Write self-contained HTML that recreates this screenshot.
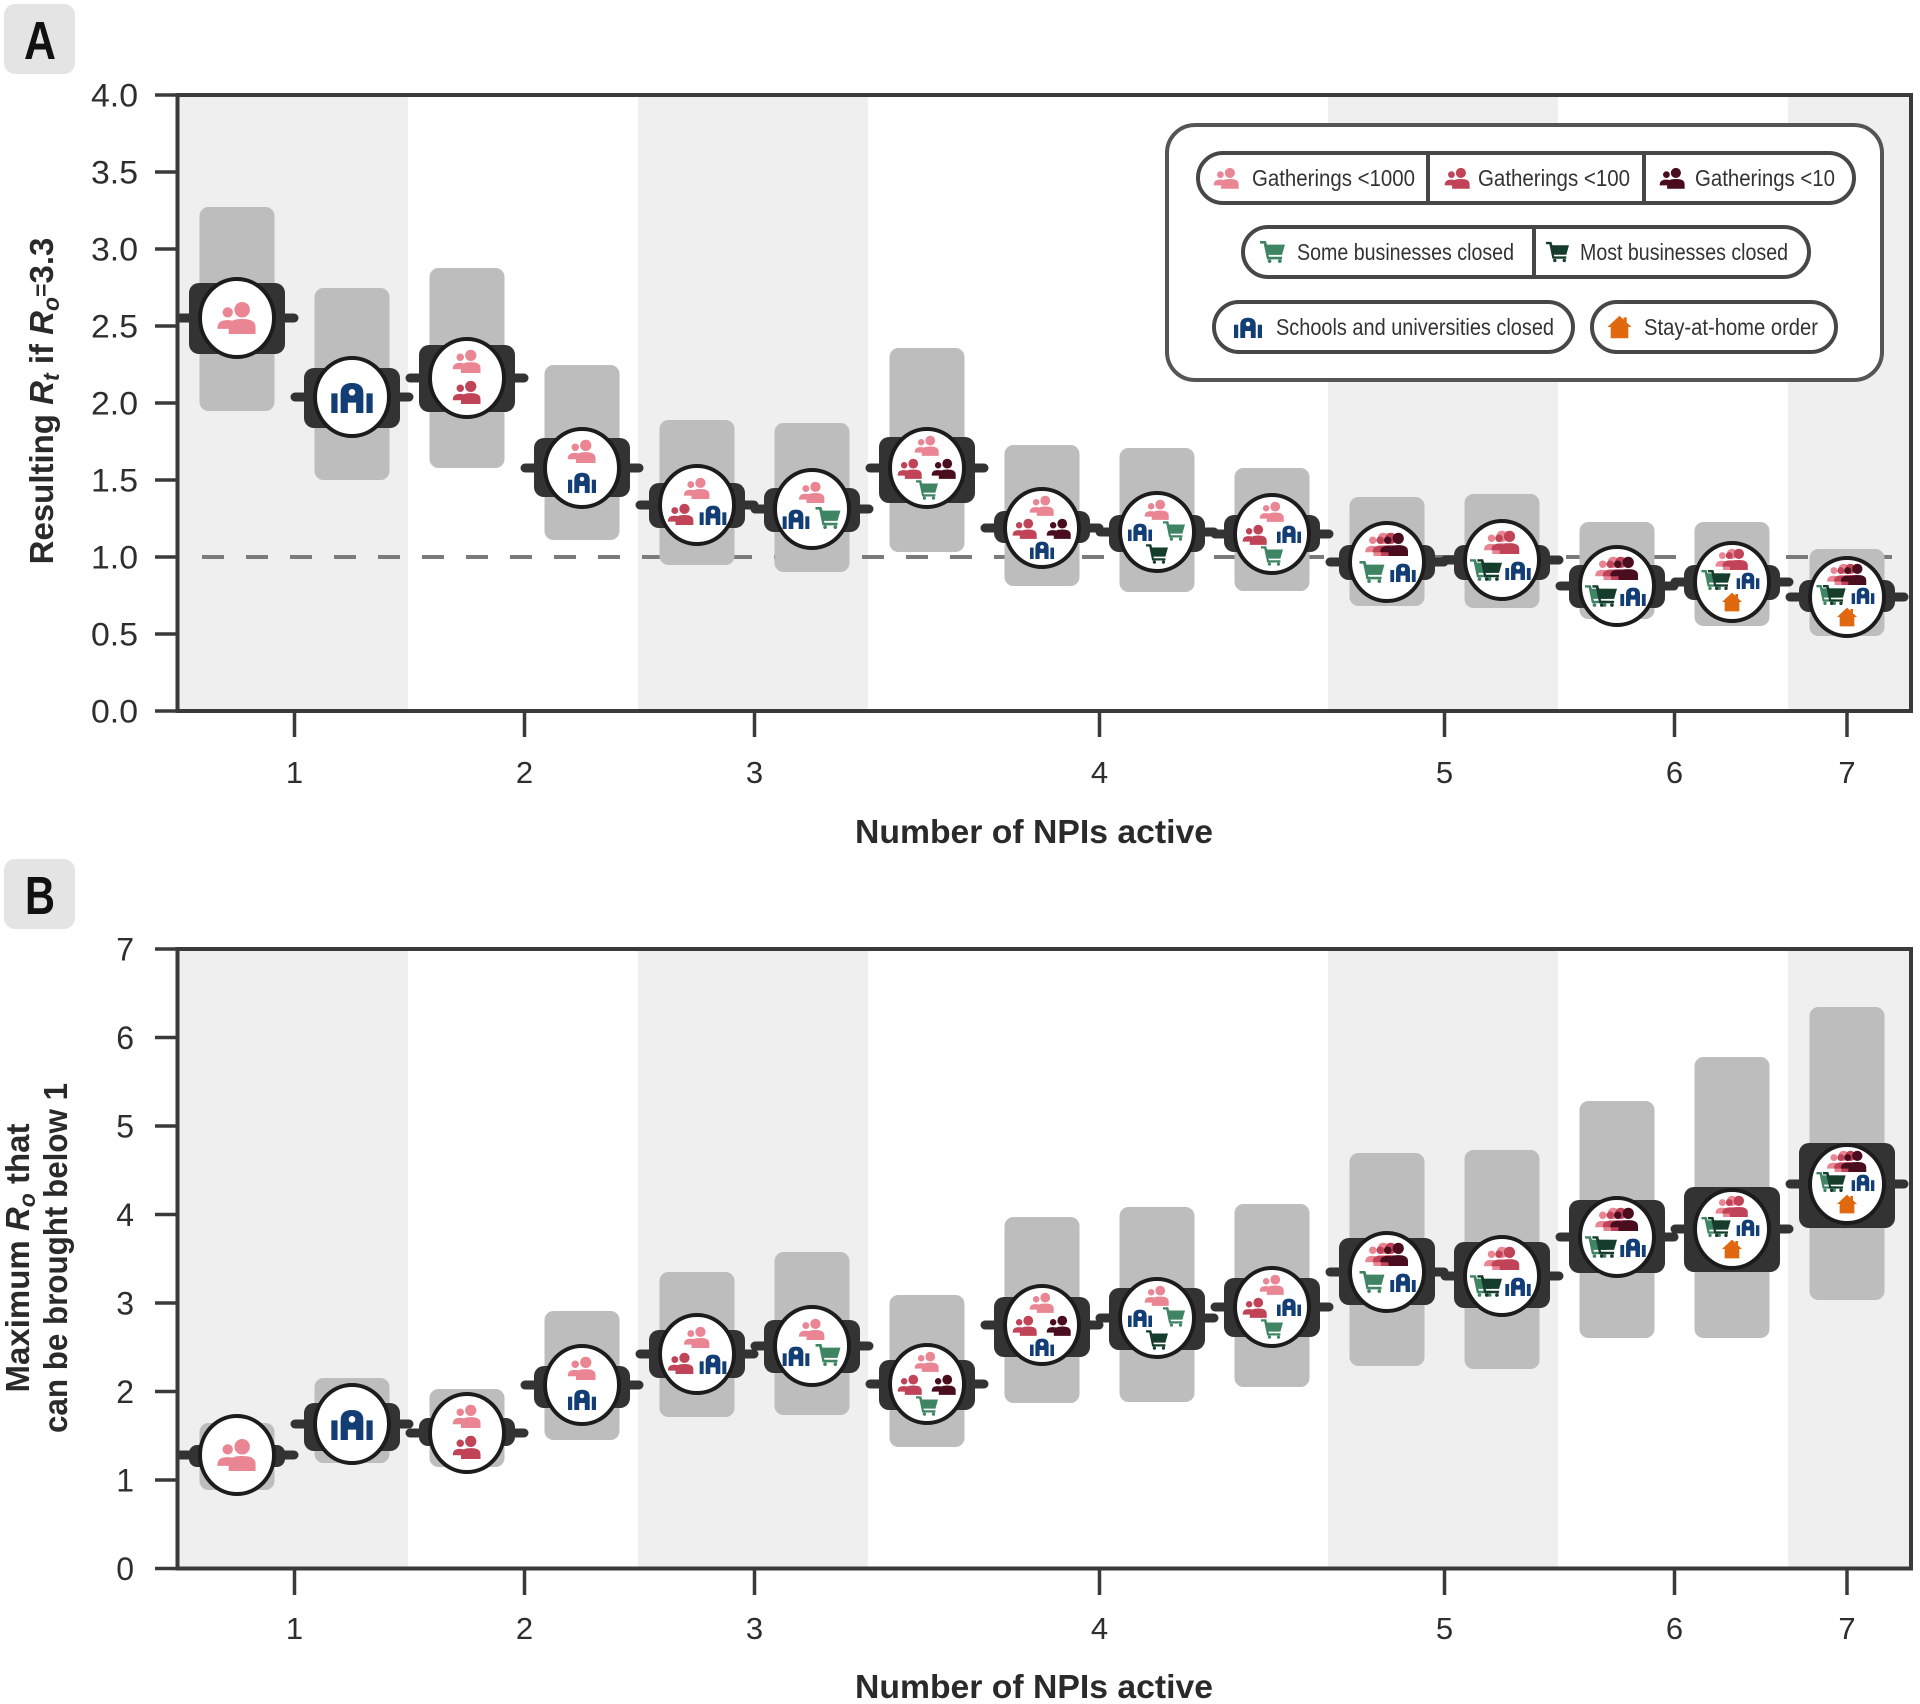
<!DOCTYPE html>
<html>
<head>
<meta charset="utf-8">
<style>
html,body{margin:0;padding:0;background:#fff;}
body{width:1920px;height:1704px;overflow:hidden;}
svg{display:block;}
.g{fill:#bdbdbd;}
.k{fill:#333;}
.s{stroke:#333;stroke-width:9;stroke-linecap:round;}
.tk{stroke:#3a3a3a;stroke-width:3.5;}
.tl{font-family:"Liberation Sans",sans-serif;font-size:32px;fill:#2e2e2e;}
.lg{font-family:"Liberation Sans Narrow","Liberation Sans",sans-serif;font-size:23px;fill:#333;}
.ttl{font-family:"Liberation Sans",sans-serif;font-weight:bold;fill:#2a2a2a;}
.pill{fill:#fff;stroke:#474747;stroke-width:4;}
.dv{stroke:#474747;stroke-width:4;}
</style>
</head>
<body>
<svg width="1920" height="1704" viewBox="0 0 1920 1704" xmlns="http://www.w3.org/2000/svg">
<defs>
  <symbol id="ppl" viewBox="0 0 40 32">
    <circle cx="11" cy="11" r="5"/>
    <path d="M1,27 C1,20 5,18.5 11,18.5 C14,18.5 16,19 17.5,20.5 L17.5,27 Z"/>
    <circle cx="25" cy="8.5" r="7.5"/>
    <path d="M12,32 L12,25.5 C12,19.5 17,17.5 25,17.5 C33,17.5 38,19.5 38,25.5 L38,32 Z"/>
  </symbol>
  <symbol id="sch" viewBox="0 0 40 30">
    <rect x="0" y="11" width="6" height="19"/>
    <rect x="34" y="11" width="6" height="19"/>
    <path d="M9,30 V11 Q9,1 20,1 Q31,1 31,11 V30 H24 V20 H16 V30 Z"/>
    <circle cx="20" cy="10" r="3.2" fill="#fff"/>
  </symbol>
  <symbol id="cart" viewBox="0 0 34 30">
    <path d="M0,0 H8 L9.5,5 H34 L30,19 H11.5 L12.2,21.5 H30 V25 H9.5 L5,3.5 H0 Z"/>
    <circle cx="13" cy="27.5" r="2.5"/>
    <circle cx="27" cy="27.5" r="2.5"/>
  </symbol>
  <symbol id="home" viewBox="0 0 30 30">
    <path d="M15,1 L30,15 L26,15 L26,29 L4,29 L4,15 L0,15 Z"/>
    <rect x="20" y="3" width="4" height="8"/>
  </symbol>
  <symbol id="ppl3" viewBox="0 0 60 32">
    <use href="#ppl" x="0" y="0" width="40" height="32" fill="#ea8593"/>
    <use href="#ppl" x="10" y="0" width="40" height="32" fill="#c04358"/>
    <use href="#ppl" x="20" y="0" width="40" height="32" fill="#4a0d1d"/>
  </symbol>
  <symbol id="ppl2" viewBox="0 0 50 32">
    <use href="#ppl" x="0" y="0" width="40" height="32" fill="#ea8593"/>
    <use href="#ppl" x="10" y="0" width="40" height="32" fill="#c04358"/>
  </symbol>
  <symbol id="cart2" viewBox="0 0 44 30">
    <use href="#cart" x="0" y="0" width="34" height="30" fill="#3f8564"/>
    <use href="#cart" x="10" y="0" width="34" height="30" fill="#163d2b"/>
  </symbol>

  <ellipse id="circ" rx="37" ry="39" fill="#fff" stroke="#1c1c1c" stroke-width="4"/>

  <g id="m1"><use href="#circ"/><use href="#ppl" x="-21" y="-17" width="42" height="33" fill="#ea8593"/></g>
  <g id="m2"><use href="#circ"/><use href="#sch" x="-21" y="-15" width="42" height="31" fill="#123d75"/></g>
  <g id="m3"><use href="#circ"/>
    <use href="#ppl" x="-15" y="-29" width="30" height="24" fill="#ea8593"/>
    <use href="#ppl" x="-15" y="2" width="30" height="24" fill="#c04358"/></g>
  <g id="m4"><use href="#circ"/>
    <use href="#ppl" x="-15" y="-29" width="30" height="24" fill="#ea8593"/>
    <use href="#sch" x="-15" y="4" width="30" height="21" fill="#123d75"/></g>
  <g id="m5"><use href="#circ"/>
    <use href="#ppl" x="-14" y="-28" width="28" height="22" fill="#ea8593"/>
    <use href="#ppl" x="-30" y="-2" width="28" height="22" fill="#c04358"/>
    <use href="#sch" x="2" y="0" width="28" height="20" fill="#123d75"/></g>
  <g id="m6"><use href="#circ"/>
    <use href="#ppl" x="-14" y="-28" width="28" height="22" fill="#ea8593"/>
    <use href="#sch" x="-30" y="0" width="28" height="20" fill="#123d75"/>
    <use href="#cart" x="3" y="-2" width="26" height="22" fill="#3f8564"/></g>
  <g id="m7"><use href="#circ"/>
    <use href="#ppl" x="-13" y="-33" width="26" height="21" fill="#ea8593"/>
    <use href="#ppl" x="-30" y="-10" width="26" height="21" fill="#c04358"/>
    <use href="#ppl" x="4" y="-10" width="26" height="21" fill="#4a0d1d"/>
    <use href="#cart" x="-11" y="12" width="22" height="20" fill="#3f8564"/></g>
  <g id="m8"><use href="#circ"/>
    <use href="#ppl" x="-13" y="-33" width="26" height="21" fill="#ea8593"/>
    <use href="#ppl" x="-30" y="-10" width="26" height="21" fill="#c04358"/>
    <use href="#ppl" x="4" y="-10" width="26" height="21" fill="#4a0d1d"/>
    <use href="#sch" x="-13" y="13" width="26" height="18" fill="#123d75"/></g>
  <g id="m9"><use href="#circ"/>
    <use href="#ppl" x="-13" y="-33" width="26" height="21" fill="#ea8593"/>
    <use href="#sch" x="-30" y="-9" width="26" height="18" fill="#123d75"/>
    <use href="#cart" x="6" y="-11" width="22" height="20" fill="#3f8564"/>
    <use href="#cart" x="-11" y="12" width="22" height="20" fill="#163d2b"/></g>
  <g id="m10"><use href="#circ"/>
    <use href="#ppl" x="-13" y="-33" width="26" height="21" fill="#ea8593"/>
    <use href="#ppl" x="-30" y="-10" width="26" height="21" fill="#c04358"/>
    <use href="#sch" x="4" y="-9" width="26" height="18" fill="#123d75"/>
    <use href="#cart" x="-11" y="12" width="22" height="20" fill="#3f8564"/></g>
  <g id="m11"><use href="#circ"/>
    <use href="#ppl3" x="-23" y="-30" width="46" height="24"/>
    <use href="#cart" x="-28" y="-1" width="26" height="22" fill="#3f8564"/>
    <use href="#sch" x="2" y="1" width="28" height="19" fill="#123d75"/></g>
  <g id="m12"><use href="#circ"/>
    <use href="#ppl2" x="-19" y="-30" width="38" height="24"/>
    <use href="#cart2" x="-32" y="-1" width="32" height="22"/>
    <use href="#sch" x="2" y="1" width="28" height="19" fill="#123d75"/></g>
  <g id="m13"><use href="#circ"/>
    <use href="#ppl3" x="-23" y="-30" width="46" height="24"/>
    <use href="#cart2" x="-32" y="-1" width="32" height="22"/>
    <use href="#sch" x="2" y="1" width="28" height="19" fill="#123d75"/></g>
  <g id="m14"><use href="#circ"/>
    <use href="#ppl2" x="-18" y="-34" width="36" height="22"/>
    <use href="#cart2" x="-31" y="-12" width="30" height="20"/>
    <use href="#sch" x="3" y="-10" width="26" height="17" fill="#123d75"/>
    <use href="#home" x="-10" y="10" width="20" height="20" fill="#e0690f"/></g>
  <g id="m15"><use href="#circ"/>
    <use href="#ppl3" x="-21" y="-34" width="42" height="22"/>
    <use href="#cart2" x="-31" y="-12" width="30" height="20"/>
    <use href="#sch" x="3" y="-10" width="26" height="17" fill="#123d75"/>
    <use href="#home" x="-10" y="10" width="20" height="20" fill="#e0690f"/></g>
</defs>

<!-- ================= PANEL A ================= -->
<rect x="4" y="4" width="71" height="70" rx="11" fill="#e4e4e4"/>
<text x="40" y="59" text-anchor="middle" font-family="Liberation Sans, sans-serif" font-weight="bold" font-size="54" fill="#111" textLength="32" lengthAdjust="spacingAndGlyphs">A</text>

<!-- bands -->
<rect x="177.5" y="95" width="230.5" height="616" fill="#efefef"/>
<rect x="638" y="95" width="230" height="616" fill="#efefef"/>
<rect x="1328" y="95" width="230" height="616" fill="#efefef"/>
<rect x="1788" y="95" width="123" height="616" fill="#efefef"/>

<!-- dashed line at 1.0 -->
<line x1="202" y1="557" x2="1892" y2="557" stroke="#7a7a7a" stroke-width="4" stroke-dasharray="22 22"/>

<!-- legend -->
<rect x="1167" y="125" width="715" height="255" rx="28" fill="#fff" stroke="#555" stroke-width="4"/>
<rect class="pill" x="1198" y="153" width="656" height="50" rx="25"/>
<line class="dv" x1="1428" y1="153" x2="1428" y2="203"/>
<line class="dv" x1="1644" y1="153" x2="1644" y2="203"/>
<use href="#ppl" x="1213" y="167" width="27" height="22" fill="#ea8593"/>
<text class="lg" x="1252" y="186" textLength="163" lengthAdjust="spacingAndGlyphs">Gatherings &lt;1000</text>
<use href="#ppl" x="1444" y="167" width="27" height="22" fill="#c04358"/>
<text class="lg" x="1478" y="186" textLength="152" lengthAdjust="spacingAndGlyphs">Gatherings &lt;100</text>
<use href="#ppl" x="1659" y="167" width="27" height="22" fill="#4a0d1d"/>
<text class="lg" x="1695" y="186" textLength="140" lengthAdjust="spacingAndGlyphs">Gatherings &lt;10</text>

<rect class="pill" x="1243" y="227" width="566" height="50" rx="25"/>
<line class="dv" x1="1534" y1="227" x2="1534" y2="277"/>
<use href="#cart" x="1260" y="241" width="25" height="22" fill="#3f8564"/>
<text class="lg" x="1297" y="260" textLength="217" lengthAdjust="spacingAndGlyphs">Some businesses closed</text>
<use href="#cart" x="1546" y="241" width="23" height="22" fill="#163d2b"/>
<text class="lg" x="1580" y="260" textLength="208" lengthAdjust="spacingAndGlyphs">Most businesses closed</text>

<rect class="pill" x="1214" y="302" width="359" height="50" rx="25"/>
<rect class="pill" x="1592" y="302" width="244" height="50" rx="25"/>
<use href="#sch" x="1232" y="317" width="32" height="21" fill="#123d75"/>
<text class="lg" x="1276" y="335" textLength="278" lengthAdjust="spacingAndGlyphs">Schools and universities closed</text>
<use href="#home" x="1607" y="315" width="25" height="24" fill="#e0690f"/>
<text class="lg" x="1644" y="335" textLength="174" lengthAdjust="spacingAndGlyphs">Stay-at-home order</text>

<!-- gray intervals A -->
<rect class="g" x="199.5" y="207" width="75" height="204" rx="9"/>
<rect class="g" x="314.5" y="288" width="75" height="192" rx="9"/>
<rect class="g" x="429.5" y="268" width="75" height="200" rx="9"/>
<rect class="g" x="544.5" y="365" width="75" height="175" rx="9"/>
<rect class="g" x="659.5" y="420" width="75" height="145" rx="9"/>
<rect class="g" x="774.5" y="423" width="75" height="149" rx="9"/>
<rect class="g" x="889.5" y="348" width="75" height="204" rx="9"/>
<rect class="g" x="1004.5" y="445" width="75" height="141" rx="9"/>
<rect class="g" x="1119.5" y="448" width="75" height="144" rx="9"/>
<rect class="g" x="1234.5" y="468" width="75" height="123" rx="9"/>
<rect class="g" x="1349.5" y="497" width="75" height="109" rx="9"/>
<rect class="g" x="1464.5" y="494" width="75" height="114" rx="9"/>
<rect class="g" x="1579.5" y="522" width="75" height="97" rx="9"/>
<rect class="g" x="1694.5" y="522" width="75" height="104" rx="9"/>
<rect class="g" x="1809.5" y="549" width="75" height="87" rx="9"/>

<!-- markers A -->
<g transform="translate(237,318)"><line class="s" x1="-57" x2="57"/><rect class="k" x="-48" y="-35" width="96" height="71" rx="10"/><use href="#m1"/></g>
<g transform="translate(352,397)"><line class="s" x1="-57" x2="57"/><rect class="k" x="-48" y="-29" width="96" height="60" rx="10"/><use href="#m2"/></g>
<g transform="translate(467,378)"><line class="s" x1="-57" x2="57"/><rect class="k" x="-48" y="-33" width="96" height="67" rx="10"/><use href="#m3"/></g>
<g transform="translate(582,468)"><line class="s" x1="-57" x2="57"/><rect class="k" x="-48" y="-30" width="96" height="59" rx="10"/><use href="#m4"/></g>
<g transform="translate(697,505)"><line class="s" x1="-57" x2="57"/><rect class="k" x="-48" y="-22" width="96" height="45" rx="10"/><use href="#m5"/></g>
<g transform="translate(812,509)"><line class="s" x1="-57" x2="57"/><rect class="k" x="-48" y="-21" width="96" height="44" rx="10"/><use href="#m6"/></g>
<g transform="translate(927,468)"><line class="s" x1="-57" x2="57"/><rect class="k" x="-48" y="-31" width="96" height="66" rx="10"/><use href="#m7"/></g>
<g transform="translate(1042,528)"><line class="s" x1="-57" x2="57"/><rect class="k" x="-48" y="-17" width="96" height="32" rx="10"/><use href="#m8"/></g>
<g transform="translate(1157,532)"><line class="s" x1="-57" x2="57"/><rect class="k" x="-48" y="-17" width="96" height="37" rx="10"/><use href="#m9"/></g>
<g transform="translate(1272,534)"><line class="s" x1="-57" x2="57"/><rect class="k" x="-48" y="-19" width="96" height="37" rx="10"/><use href="#m10"/></g>
<g transform="translate(1387,562)"><line class="s" x1="-57" x2="57"/><rect class="k" x="-48" y="-17" width="96" height="35" rx="10"/><use href="#m11"/></g>
<g transform="translate(1502,560)"><line class="s" x1="-57" x2="57"/><rect class="k" x="-48" y="-15" width="96" height="35" rx="10"/><use href="#m12"/></g>
<g transform="translate(1617,586)"><line class="s" x1="-57" x2="57"/><rect class="k" x="-48" y="-21" width="96" height="43" rx="10"/><use href="#m13"/></g>
<g transform="translate(1732,582)"><line class="s" x1="-57" x2="57"/><rect class="k" x="-48" y="-17" width="96" height="35" rx="10"/><use href="#m14"/></g>
<g transform="translate(1847,597)"><line class="s" x1="-57" x2="57"/><rect class="k" x="-48" y="-17" width="96" height="32" rx="10"/><use href="#m15"/></g>

<!-- axes A -->
<rect x="177.5" y="95" width="1733.5" height="616" fill="none" stroke="#3a3a3a" stroke-width="4"/>
<g class="tk">
<line x1="155" x2="177" y1="95" y2="95"/><line x1="155" x2="177" y1="172" y2="172"/>
<line x1="155" x2="177" y1="249" y2="249"/><line x1="155" x2="177" y1="326" y2="326"/>
<line x1="155" x2="177" y1="403" y2="403"/><line x1="155" x2="177" y1="480" y2="480"/>
<line x1="155" x2="177" y1="557" y2="557"/><line x1="155" x2="177" y1="634" y2="634"/>
<line x1="155" x2="177" y1="711" y2="711"/>
<line x1="294.5" x2="294.5" y1="711" y2="737"/><line x1="524.5" x2="524.5" y1="711" y2="737"/>
<line x1="754.5" x2="754.5" y1="711" y2="737"/><line x1="1099.5" x2="1099.5" y1="711" y2="737"/>
<line x1="1444.5" x2="1444.5" y1="711" y2="737"/><line x1="1674.5" x2="1674.5" y1="711" y2="737"/>
<line x1="1847" x2="1847" y1="711" y2="737"/>
</g>
<g class="tl" text-anchor="end">
<text x="138" y="106.5" textLength="47" lengthAdjust="spacingAndGlyphs">4.0</text>
<text x="138" y="183.5" textLength="47" lengthAdjust="spacingAndGlyphs">3.5</text>
<text x="138" y="260.5" textLength="47" lengthAdjust="spacingAndGlyphs">3.0</text>
<text x="138" y="337.5" textLength="47" lengthAdjust="spacingAndGlyphs">2.5</text>
<text x="138" y="414.5" textLength="47" lengthAdjust="spacingAndGlyphs">2.0</text>
<text x="138" y="491.5" textLength="47" lengthAdjust="spacingAndGlyphs">1.5</text>
<text x="138" y="568.5" textLength="47" lengthAdjust="spacingAndGlyphs">1.0</text>
<text x="138" y="645.5" textLength="47" lengthAdjust="spacingAndGlyphs">0.5</text>
<text x="138" y="722.5" textLength="47" lengthAdjust="spacingAndGlyphs">0.0</text>
</g>
<g class="tl" text-anchor="middle" style="font-size:31px">
<text x="294.5" y="783">1</text><text x="524.5" y="783">2</text><text x="754.5" y="783">3</text>
<text x="1099.5" y="783">4</text><text x="1444.5" y="783">5</text><text x="1674.5" y="783">6</text>
<text x="1847" y="783">7</text>
</g>
<text class="ttl" x="1034" y="843" text-anchor="middle" font-size="33" textLength="358" lengthAdjust="spacingAndGlyphs">Number of NPIs active</text>
<text class="ttl" transform="translate(53,401) rotate(-90)" text-anchor="middle" font-size="33">Resulting <tspan font-style="italic">R</tspan><tspan font-style="italic" font-size="23" dy="6">t</tspan><tspan dy="-6"> if </tspan><tspan font-style="italic">R</tspan><tspan font-style="italic" font-size="23" dy="6">o</tspan><tspan font-size="23" dy="-10">=</tspan><tspan dy="4">3.3</tspan></text>

<!-- ================= PANEL B ================= -->
<rect x="4" y="859" width="71" height="70" rx="11" fill="#e4e4e4"/>
<text x="40" y="914" text-anchor="middle" font-family="Liberation Sans, sans-serif" font-weight="bold" font-size="54" fill="#111" textLength="30" lengthAdjust="spacingAndGlyphs">B</text>

<rect x="177.5" y="949" width="230.5" height="619.5" fill="#efefef"/>
<rect x="638" y="949" width="230" height="619.5" fill="#efefef"/>
<rect x="1328" y="949" width="230" height="619.5" fill="#efefef"/>
<rect x="1788" y="949" width="123" height="619.5" fill="#efefef"/>

<!-- gray intervals B -->
<rect class="g" x="199.5" y="1423" width="75" height="67" rx="9"/>
<rect class="g" x="314.5" y="1378" width="75" height="85" rx="9"/>
<rect class="g" x="429.5" y="1389" width="75" height="78" rx="9"/>
<rect class="g" x="544.5" y="1311" width="75" height="129" rx="9"/>
<rect class="g" x="659.5" y="1272" width="75" height="145" rx="9"/>
<rect class="g" x="774.5" y="1252" width="75" height="163" rx="9"/>
<rect class="g" x="889.5" y="1295" width="75" height="152" rx="9"/>
<rect class="g" x="1004.5" y="1217" width="75" height="186" rx="9"/>
<rect class="g" x="1119.5" y="1207" width="75" height="195" rx="9"/>
<rect class="g" x="1234.5" y="1204" width="75" height="183" rx="9"/>
<rect class="g" x="1349.5" y="1153" width="75" height="213" rx="9"/>
<rect class="g" x="1464.5" y="1150" width="75" height="219" rx="9"/>
<rect class="g" x="1579.5" y="1101" width="75" height="237" rx="9"/>
<rect class="g" x="1694.5" y="1057" width="75" height="281" rx="9"/>
<rect class="g" x="1809.5" y="1007" width="75" height="293" rx="9"/>

<!-- markers B -->
<g transform="translate(237,1455)"><line class="s" x1="-57" x2="57"/><rect class="k" x="-48" y="-10" width="96" height="22" rx="8"/><use href="#m1"/></g>
<g transform="translate(352,1424)"><line class="s" x1="-57" x2="57"/><rect class="k" x="-48" y="-21" width="96" height="48" rx="10"/><use href="#m2"/></g>
<g transform="translate(467,1433)"><line class="s" x1="-57" x2="57"/><rect class="k" x="-48" y="-15" width="96" height="28" rx="9"/><use href="#m3"/></g>
<g transform="translate(582,1385)"><line class="s" x1="-57" x2="57"/><rect class="k" x="-48" y="-19" width="96" height="42" rx="10"/><use href="#m4"/></g>
<g transform="translate(697,1354)"><line class="s" x1="-57" x2="57"/><rect class="k" x="-48" y="-24" width="96" height="48" rx="10"/><use href="#m5"/></g>
<g transform="translate(812,1346)"><line class="s" x1="-57" x2="57"/><rect class="k" x="-48" y="-26" width="96" height="53" rx="10"/><use href="#m6"/></g>
<g transform="translate(927,1384)"><line class="s" x1="-57" x2="57"/><rect class="k" x="-48" y="-24" width="96" height="50" rx="10"/><use href="#m7"/></g>
<g transform="translate(1042,1325)"><line class="s" x1="-57" x2="57"/><rect class="k" x="-48" y="-28" width="96" height="60" rx="10"/><use href="#m8"/></g>
<g transform="translate(1157,1318)"><line class="s" x1="-57" x2="57"/><rect class="k" x="-48" y="-30" width="96" height="62" rx="10"/><use href="#m9"/></g>
<g transform="translate(1272,1307)"><line class="s" x1="-57" x2="57"/><rect class="k" x="-48" y="-29" width="96" height="59" rx="10"/><use href="#m10"/></g>
<g transform="translate(1387,1272)"><line class="s" x1="-57" x2="57"/><rect class="k" x="-48" y="-34" width="96" height="67" rx="10"/><use href="#m11"/></g>
<g transform="translate(1502,1276)"><line class="s" x1="-57" x2="57"/><rect class="k" x="-48" y="-34" width="96" height="66" rx="10"/><use href="#m12"/></g>
<g transform="translate(1617,1237)"><line class="s" x1="-57" x2="57"/><rect class="k" x="-48" y="-37" width="96" height="73" rx="10"/><use href="#m13"/></g>
<g transform="translate(1732,1229)"><line class="s" x1="-57" x2="57"/><rect class="k" x="-48" y="-42" width="96" height="85" rx="10"/><use href="#m14"/></g>
<g transform="translate(1847,1184)"><line class="s" x1="-57" x2="57"/><rect class="k" x="-48" y="-41" width="96" height="85" rx="10"/><use href="#m15"/></g>

<!-- axes B -->
<rect x="177.5" y="949" width="1733.5" height="619.5" fill="none" stroke="#3a3a3a" stroke-width="4"/>
<g class="tk">
<line x1="155" x2="177" y1="949" y2="949"/><line x1="155" x2="177" y1="1037.5" y2="1037.5"/>
<line x1="155" x2="177" y1="1126" y2="1126"/><line x1="155" x2="177" y1="1214.5" y2="1214.5"/>
<line x1="155" x2="177" y1="1303" y2="1303"/><line x1="155" x2="177" y1="1391.5" y2="1391.5"/>
<line x1="155" x2="177" y1="1480" y2="1480"/><line x1="155" x2="177" y1="1568.5" y2="1568.5"/>
<line x1="294.5" x2="294.5" y1="1568.5" y2="1595"/><line x1="524.5" x2="524.5" y1="1568.5" y2="1595"/>
<line x1="754.5" x2="754.5" y1="1568.5" y2="1595"/><line x1="1099.5" x2="1099.5" y1="1568.5" y2="1595"/>
<line x1="1444.5" x2="1444.5" y1="1568.5" y2="1595"/><line x1="1674.5" x2="1674.5" y1="1568.5" y2="1595"/>
<line x1="1847" x2="1847" y1="1568.5" y2="1595"/>
</g>
<g class="tl" text-anchor="end">
<text x="134" y="960.5">7</text>
<text x="134" y="1049">6</text>
<text x="134" y="1137.5">5</text>
<text x="134" y="1226">4</text>
<text x="134" y="1314.5">3</text>
<text x="134" y="1403">2</text>
<text x="134" y="1491.5">1</text>
<text x="134" y="1580">0</text>
</g>
<g class="tl" text-anchor="middle" style="font-size:31px">
<text x="294.5" y="1639">1</text><text x="524.5" y="1639">2</text><text x="754.5" y="1639">3</text>
<text x="1099.5" y="1639">4</text><text x="1444.5" y="1639">5</text><text x="1674.5" y="1639">6</text>
<text x="1847" y="1639">7</text>
</g>
<text class="ttl" x="1034" y="1698" text-anchor="middle" font-size="33" textLength="358" lengthAdjust="spacingAndGlyphs">Number of NPIs active</text>
<text class="ttl" transform="translate(29,1258) rotate(-90)" text-anchor="middle" font-size="33">Maximum <tspan font-style="italic">R</tspan><tspan font-style="italic" font-size="23" dy="6">o</tspan><tspan dy="-6"> that</tspan></text>
<text class="ttl" transform="translate(67,1258) rotate(-90)" text-anchor="middle" font-size="33" textLength="350" lengthAdjust="spacingAndGlyphs">can be brought below 1</text>
</svg>
</body>
</html>
